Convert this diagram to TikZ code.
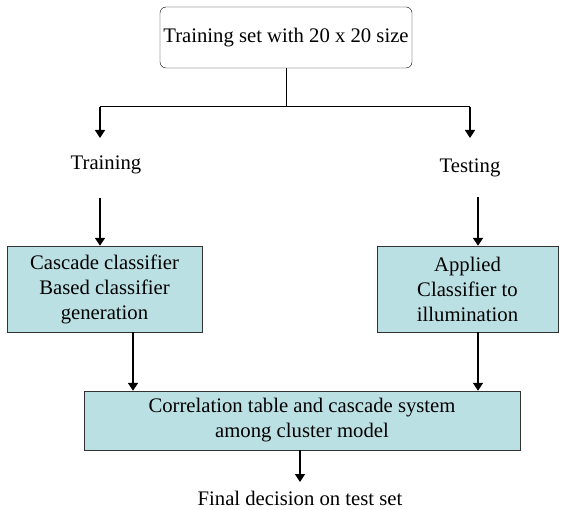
\documentclass[tikz,border=0pt]{standalone}
\usepackage{fontspec}
\setmainfont{Liberation Serif}
\usetikzlibrary{arrows.meta}
\definecolor{boxfill}{RGB}{187,224,227}
\definecolor{boxline}{RGB}{50,50,50}
\begin{document}
\begin{tikzpicture}[x=1pt,y=-1pt,font=\fontsize{20.7}{25}\selectfont,
  box/.style={draw=boxline,fill=boxfill,align=center,inner sep=0pt},
  arr/.style={line width=1.6pt,-{Triangle[length=8pt,width=10pt]}}]

\useasboundingbox (0,0) rectangle (562,510);

%Nodi
\node[draw=black,rounded corners=6pt,minimum width=252pt,minimum height=61pt,inner sep=0pt]
  (top) at (286,37.5) {Training set with 20 x 20 size};
\node (train) at (106,165) {Training};
\node (test) at (470,168) {Testing};
\node[box,minimum width=195pt,minimum height=86pt] (lbox) at (104.5,289)
  {Cascade classifier\\Based classifier\\generation};
\node[box,minimum width=181pt,minimum height=86pt] (rbox) at (467.5,289)
  {Applied\\Classifier to\\illumination};
\node[box,minimum width=436pt,minimum height=59pt] (cbox) at (302,420.5)
  {Correlation table and cascade system\\among cluster model};
\node[inner sep=0pt] (final) at (300,498.5) {Final decision on test set};

%Punti
\coordinate (bl) at (100,107);
\coordinate (br) at (470,107);
\coordinate (tl) at (100,138);
\coordinate (tr) at (470,138);
\coordinate (ul) at (100,198);
\coordinate (ur) at (478,197);
\coordinate (fa) at (300,482);

%Collegamenti
\draw[line width=1pt] (top.south) -- (top.south |- bl);
\draw[line width=1pt] (bl) -- (br);
\draw[arr] (bl) -- (tl);
\draw[arr] (br) -- (tr);
\draw[arr] (ul) -- (ul |- lbox.north);
\draw[arr] (ur) -- (ur |- rbox.north);
\draw[arr] ([xshift=28.5pt]lbox.south) -- ([xshift=28.5pt]lbox.south |- cbox.north);
\draw[arr] ([xshift=10.5pt]rbox.south) -- ([xshift=10.5pt]rbox.south |- cbox.north);
\draw[arr] (cbox.south -| fa) -- (fa);

\end{tikzpicture}
\end{document}
